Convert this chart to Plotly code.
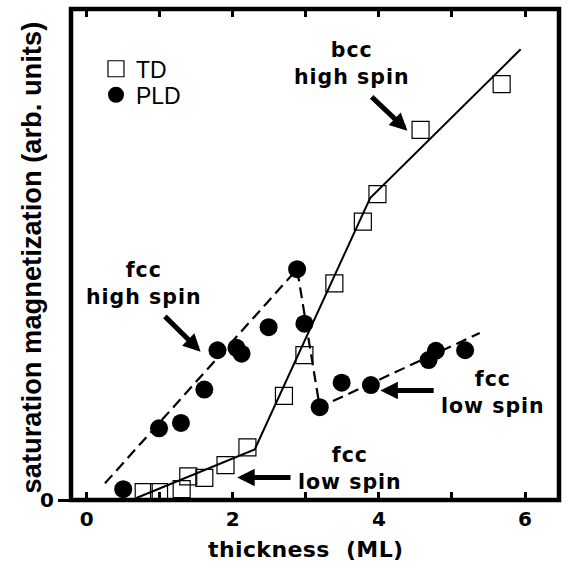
import plotly.graph_objects as go

# TD (open squares)
td_x = [0.78, 0.99, 1.30, 1.39, 1.61, 1.90, 2.20, 2.70, 2.98, 3.39, 3.78, 3.98, 4.57, 5.68]
td_y = [0.16, 0.16, 0.22, 0.48, 0.45, 0.71, 1.07, 2.12, 2.95, 4.41, 5.67, 6.23, 7.54, 8.47]
# PLD (filled circles)
pld_x = [0.50, 0.99, 1.29, 1.61, 1.79, 2.05, 2.12, 2.49, 2.88, 2.98, 3.19, 3.49, 3.89, 4.68, 4.78, 5.18]
pld_y = [0.22, 1.46, 1.57, 2.25, 3.05, 3.10, 2.98, 3.52, 4.70, 3.59, 1.89, 2.39, 2.34, 2.85, 3.04, 3.05]
# guide lines
td_fit_x = [0.68, 2.30, 3.88, 5.94]
td_fit_y = [0.04, 1.03, 6.15, 9.18]
pld_fit_x = [0.25, 2.88, 3.19, 5.38]
pld_fit_y = [0.34, 4.70, 1.89, 3.40]

x_ticks = [0, 1, 2, 3, 4, 5, 6]
x_labels = ["0", "", "2", "", "4", "", "6"]

BOLD = dict(family="DejaVu Sans", size=20.5, color="black", weight="bold")


def spaced(s, px=1.0):
    return "<br>".join(f"<span style='letter-spacing:{px}px'>{line}</span>" for line in s.split("\n"))


fig = go.Figure()
fig.add_trace(go.Scatter(x=td_fit_x, y=td_fit_y, mode="lines",
                         line=dict(color="black", width=2), showlegend=False, hoverinfo="skip"))
fig.add_trace(go.Scatter(x=pld_fit_x, y=pld_fit_y, mode="lines",
                         line=dict(color="black", width=2.2, dash="11px,6px"), showlegend=False, hoverinfo="skip"))
fig.add_trace(go.Scatter(x=td_x, y=td_y, mode="markers", name="TD", legend="legend",
                         marker=dict(symbol="square-open", size=17, color="black", line=dict(width=1.2))))
fig.add_trace(go.Scatter(x=pld_x, y=pld_y, mode="markers", name="PLD", legend="legend2",
                         marker=dict(symbol="circle", size=18, color="black")))

annotations = [
    dict(x=3.63, y=8.88, text="bcc\nhigh spin"),
    dict(x=0.786, y=4.41, text="fcc\nhigh spin"),
    dict(x=5.56, y=2.18, text="fcc\nlow spin"),
    dict(x=3.60, y=0.65, text="fcc\nlow spin"),
]
for a in annotations:
    fig.add_annotation(x=a["x"], y=a["y"], text=spaced(a["text"]), showarrow=False,
                       xref="x", yref="y", xanchor="center", yanchor="middle", font=BOLD)

arrows = [
    dict(x=4.39, y=7.52, ax=3.88, ay=8.24),
    dict(x=1.56, y=3.02, ax=1.05, ay=3.77),
    dict(x=4.02, y=2.23, ax=4.77, ay=2.23),
    dict(x=2.06, y=0.46, ax=2.81, ay=0.46),
]
for a in arrows:
    fig.add_annotation(x=a["x"], y=a["y"], ax=a["ax"], ay=a["ay"], xref="x", yref="y",
                       axref="x", ayref="y", text="", showarrow=True, arrowhead=2,
                       arrowsize=0.7, arrowwidth=5, arrowcolor="black", standoff=0, startstandoff=0)

# axis titles
fig.add_annotation(x=0.4816, y=-0.100, xref="paper", yref="paper", showarrow=False,
                   text=spaced("thickness\u00a0 (ML)", 0.4), xanchor="center", yanchor="middle",
                   font=dict(family="DejaVu Sans", size=22, color="black", weight="bold"))
fig.add_annotation(x=-0.082, y=0.494, xref="paper", yref="paper", showarrow=False, textangle=-90,
                   text="saturation magnetization (arb. units)", xanchor="center", yanchor="middle",
                   font=dict(family="Liberation Sans", size=27.3, color="black", weight="bold"))

fig.add_shape(type="rect", xref="paper", yref="paper", x0=0, x1=1, y0=0, y1=1,
              line=dict(color="black", width=4.5), layer="below")

LEG_FONT = dict(family="Liberation Sans", size=23, color="black")
fig.update_layout(
    width=568, height=568,
    margin=dict(l=71, r=9, t=9, b=68),
    paper_bgcolor="white", plot_bgcolor="white",
    showlegend=True,
    legend=dict(x=0.0512, y=0.922, xanchor="left", yanchor="top", bgcolor="rgba(0,0,0,0)",
                font=LEG_FONT, itemsizing="trace"),
    legend2=dict(x=0.0512, y=0.869, xanchor="left", yanchor="top", bgcolor="rgba(0,0,0,0)",
                 font=LEG_FONT, itemsizing="trace"),
    xaxis=dict(range=[-0.215, 6.465], tickvals=x_ticks, ticktext=x_labels,
               ticks="inside", ticklen=8, tickwidth=3, tickcolor="black", mirror="ticks",
               showgrid=False, zeroline=False, showline=False, ticklabelstandoff=5,
               tickfont=dict(family="DejaVu Sans", size=20, color="black", weight="bold")),
    yaxis=dict(range=[0, 10], tickvals=[0], ticktext=["0"],
               ticks="outside", ticklen=12, tickwidth=3, tickcolor="black",
               showgrid=False, zeroline=False, showline=False,
               tickfont=dict(family="DejaVu Sans", size=20, color="black", weight="bold")),
)

fig.write_html("out.html")
